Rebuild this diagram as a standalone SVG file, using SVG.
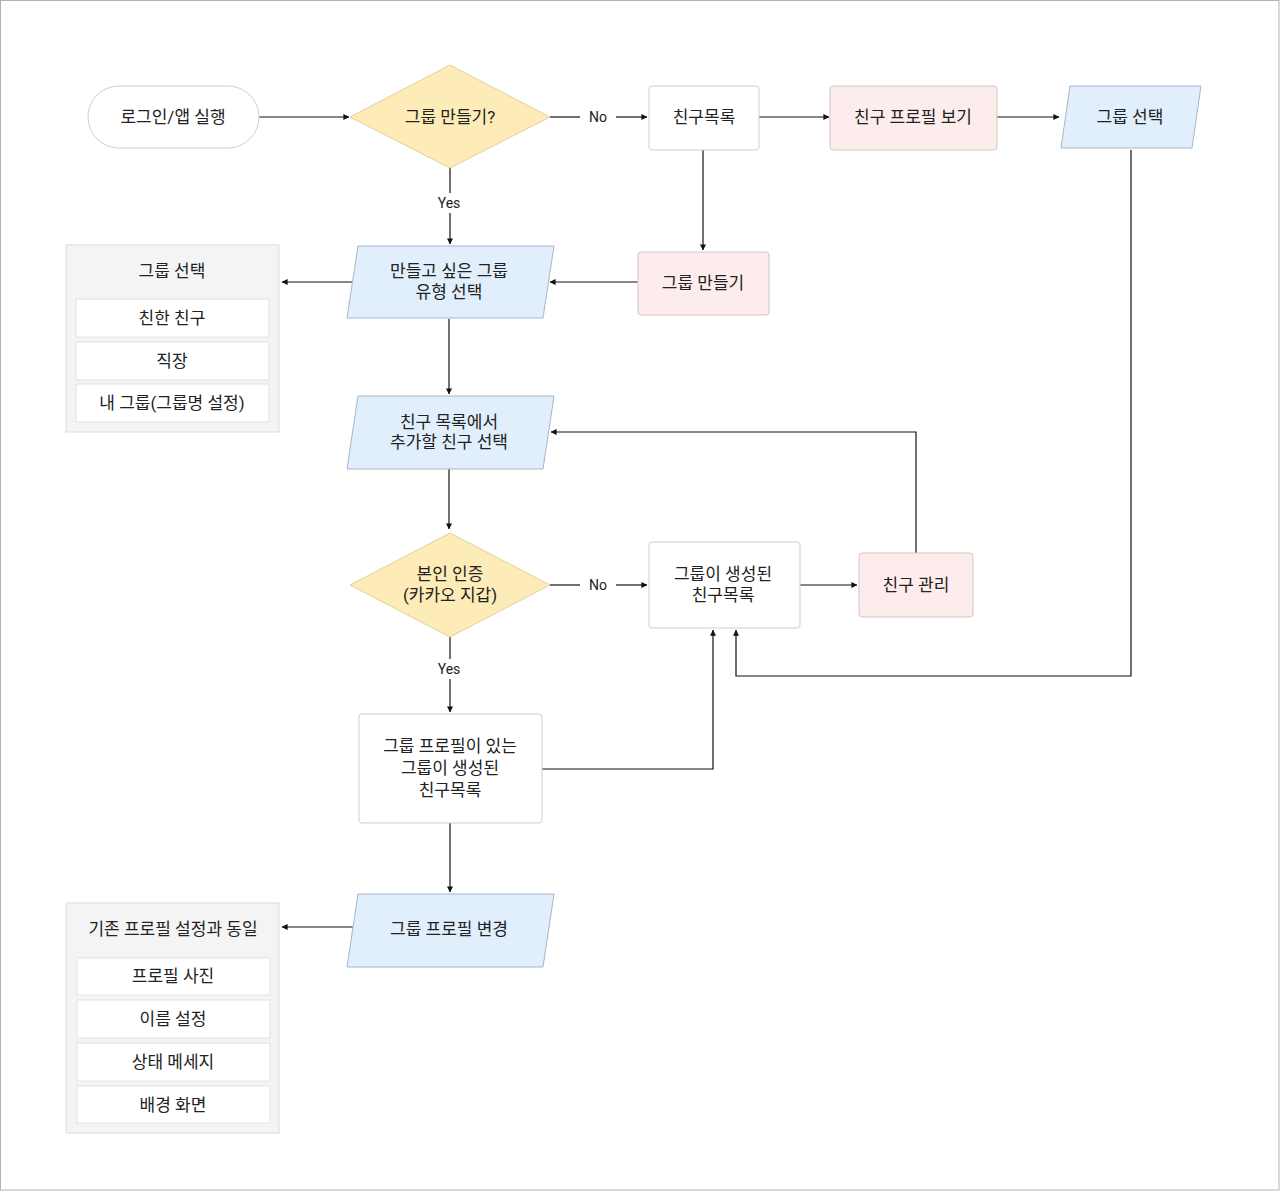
<svg xmlns="http://www.w3.org/2000/svg" width="1280" height="1191" viewBox="0 0 1280 1191">
<style>
text{font-family:Roboto,"Noto Sans CJK KR","Noto Sans",sans-serif;font-size:17px;fill:#222;text-anchor:middle;dominant-baseline:central}
.lbl{font-size:14px}
.plain{fill:#fff;stroke:#cfcfcf;stroke-width:1}
.pink{fill:#fdecec;stroke:#d6c4c4;stroke-width:1}
.blue{fill:#e1eefc;stroke:#a9b6c6;stroke-width:1}
.dia{fill:#fdebb8;stroke:#e2d09c;stroke-width:1}
.panel{fill:#f4f4f4;stroke:#dcdcdc;stroke-width:1}
.item{fill:#fff;stroke:#e2e2e2;stroke-width:1}
.c{fill:none;stroke:#111;stroke-width:1.2}
</style>
<defs>
<marker id="ah" viewBox="0 0 8 8" refX="7.5" refY="4" markerWidth="6" markerHeight="6" orient="auto" markerUnits="userSpaceOnUse">
<path d="M0,0 L8,4 L0,8 z" fill="#111"/>
</marker>
</defs>
<rect x="0.5" y="0.5" width="1278.5" height="1189.5" fill="#fff" stroke="#b3b3b3" stroke-width="1"/>

<g id="connectors">
<path class="c" d="M259,117 H349" marker-end="url(#ah)"/>
<path class="c" d="M550,117 H580"/>
<text class="lbl" x="598" y="117">No</text>
<path class="c" d="M616,117 H647" marker-end="url(#ah)"/>
<path class="c" d="M759,117 H829" marker-end="url(#ah)"/>
<path class="c" d="M997,117 H1059" marker-end="url(#ah)"/>
<path class="c" d="M450,168 V193"/>
<text class="lbl" x="449" y="203">Yes</text>
<path class="c" d="M450,213 V244" marker-end="url(#ah)"/>
<path class="c" d="M703,150 V250" marker-end="url(#ah)"/>
<path class="c" d="M638,282 H550" marker-end="url(#ah)"/>
<path class="c" d="M355,282 H282" marker-end="url(#ah)"/>
<path class="c" d="M449,319 V394" marker-end="url(#ah)"/>
<path class="c" d="M449,469 V529" marker-end="url(#ah)"/>
<path class="c" d="M550,585 H580"/>
<text class="lbl" x="598" y="585">No</text>
<path class="c" d="M616,585 H647" marker-end="url(#ah)"/>
<path class="c" d="M800,585 H857" marker-end="url(#ah)"/>
<path class="c" d="M916,553 V432 H551" marker-end="url(#ah)"/>
<path class="c" d="M1131,150 V676 H736 V630" marker-end="url(#ah)"/>
<path class="c" d="M450,637 V659"/>
<text class="lbl" x="449" y="669">Yes</text>
<path class="c" d="M450,679 V712" marker-end="url(#ah)"/>
<path class="c" d="M542,769 H713 V630" marker-end="url(#ah)"/>
<path class="c" d="M450,823 V892" marker-end="url(#ah)"/>
<path class="c" d="M355,927 H282" marker-end="url(#ah)"/>
</g>

<g id="start">
<rect class="plain" x="88" y="86" width="171" height="62" rx="31"/>
<text x="173" y="117">로그인/앱 실행</text>
</g>
<g id="decision-create">
<polygon class="dia" points="450,65 550,117 450,168 350,117"/>
<text x="450" y="117">그룹 만들기?</text>
</g>
<g id="friend-list">
<rect class="plain" x="649" y="86" width="110" height="64" rx="3"/>
<text x="704" y="117">친구목록</text>
</g>
<g id="friend-profile">
<rect class="pink" x="830" y="86" width="167" height="64" rx="3"/>
<text x="913" y="117">친구 프로필 보기</text>
</g>
<g id="group-select-io">
<polygon class="blue" points="1070,86 1201,86 1192,148 1061,148"/>
<text x="1130" y="117">그룹 선택</text>
</g>
<g id="group-type-io">
<polygon class="blue" points="358,246 554,246 543,318 347,318"/>
<text x="449" y="271">만들고 싶은 그룹</text>
<text x="449" y="292">유형 선택</text>
</g>
<g id="create-group">
<rect class="pink" x="638" y="252" width="131" height="63" rx="3"/>
<text x="703" y="283">그룹 만들기</text>
</g>
<g id="group-type-panel">
<rect class="panel" x="66" y="245" width="213" height="187"/>
<text x="172" y="271">그룹 선택</text>
<rect class="item" x="76" y="299" width="193" height="38"/>
<text x="172" y="318">친한 친구</text>
<rect class="item" x="76" y="342" width="193" height="38"/>
<text x="172" y="361">직장</text>
<rect class="item" x="76" y="384" width="193" height="38"/>
<text x="172" y="403">내 그룹(그룹명 설정)</text>
</g>
<g id="select-friends-io">
<polygon class="blue" points="358,396 554,396 543,469 347,469"/>
<text x="449" y="422">친구 목록에서</text>
<text x="449" y="442">추가할 친구 선택</text>
</g>
<g id="decision-auth">
<polygon class="dia" points="450,533 550,585 450,637 350,585"/>
<text x="450" y="574">본인 인증</text>
<text x="450" y="595">(카카오 지갑)</text>
</g>
<g id="grouped-list">
<rect class="plain" x="649" y="542" width="151" height="86" rx="3"/>
<text x="723" y="574">그룹이 생성된</text>
<text x="723" y="595">친구목록</text>
</g>
<g id="friend-manage">
<rect class="pink" x="859" y="553" width="114" height="64" rx="3"/>
<text x="916" y="585">친구 관리</text>
</g>
<g id="profile-grouped-list">
<rect class="plain" x="359" y="714" width="183" height="109" rx="3"/>
<text x="450" y="746">그룹 프로필이 있는</text>
<text x="450" y="768">그룹이 생성된</text>
<text x="450" y="790">친구목록</text>
</g>
<g id="change-profile-io">
<polygon class="blue" points="358,894 554,894 543,967 347,967"/>
<text x="449" y="929">그룹 프로필 변경</text>
</g>
<g id="profile-panel">
<rect class="panel" x="66" y="903" width="213" height="230"/>
<text x="173" y="929">기존 프로필 설정과 동일</text>
<rect class="item" x="77" y="958" width="193" height="37"/>
<text x="173" y="976">프로필 사진</text>
<rect class="item" x="77" y="1000" width="193" height="38"/>
<text x="173" y="1019">이름 설정</text>
<rect class="item" x="77" y="1043" width="193" height="38"/>
<text x="173" y="1062">상태 메세지</text>
<rect class="item" x="77" y="1086" width="193" height="37"/>
<text x="173" y="1105">배경 화면</text>
</g>
</svg>
